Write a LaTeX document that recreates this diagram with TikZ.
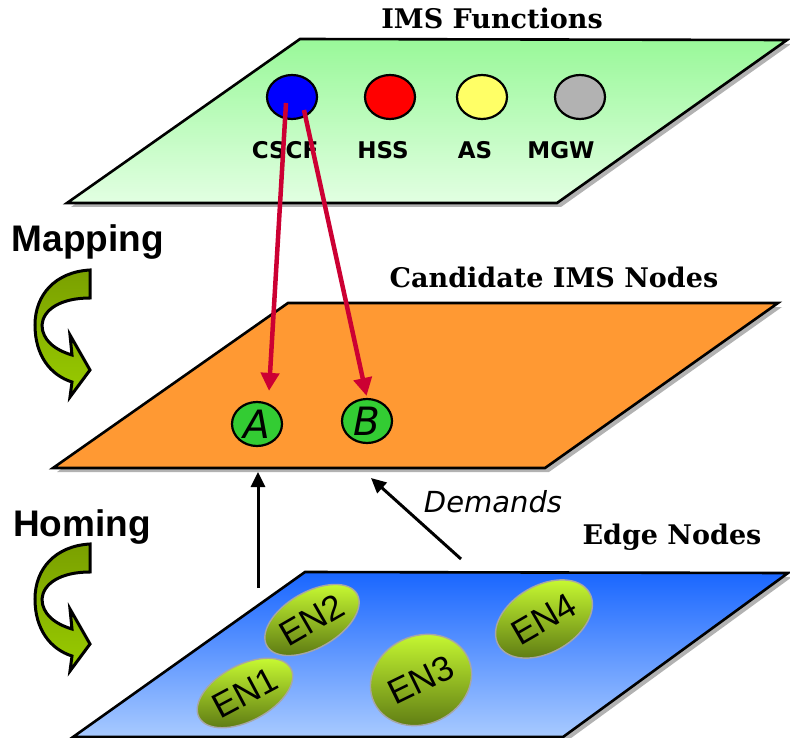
\documentclass[tikz,border=0pt]{standalone}
\usepackage{fontspec}
\usepackage{tikz}
\usetikzlibrary{shapes.geometric,arrows.meta,positioning}
\newfontfamily\verdfont{DejaVu Sans}
\newfontfamily\arialfont{Liberation Sans}
\newfontfamily\bookfont{DejaVu Serif}

\begin{document}
\begin{tikzpicture}[x=1pt, y=-1pt,
    every node/.style={inner sep=0pt},
    plane/.style={draw=black, line width=2.6pt},
    planeshadow/.style={fill=black!30},
    fnode/.style={ellipse, draw=black, line width=2.2pt, minimum width=50pt, minimum height=44pt},
    fnlabel/.style={font=\verdfont\bfseries\fontsize{23}{25}\selectfont},
    cand/.style={ellipse, draw=black, line width=2.2pt, fill=candgreen, minimum width=50pt, minimum height=44pt, font=\verdfont\itshape\fontsize{39}{41}\selectfont},
    en/.style={ellipse, draw=black!35, line width=1.4pt, top color=enlight, bottom color=endark, font=\arialfont\fontsize{35}{37}\selectfont},
    title/.style={font=\bookfont\bfseries\fontsize{27}{29}\selectfont},
    layername/.style={font=\arialfont\bfseries\fontsize{37}{39}\selectfont},
    maparrow/.style={draw=mapred, line width=4.5pt, -{Triangle[length=18pt,width=18pt]}},
    homearrow/.style={draw=black, line width=3pt, -{Triangle[length=15pt,width=14pt]}}]
    % Define colors
    \definecolor{imstop}{RGB}{153,248,153}
    \definecolor{imsbot}{RGB}{226,255,226}
    \definecolor{candorange}{RGB}{255,153,51}
    \definecolor{edgetop}{RGB}{25,102,255}
    \definecolor{edgebot}{RGB}{168,202,255}
    \definecolor{cscfblue}{RGB}{0,0,255}
    \definecolor{asyellow}{RGB}{255,255,102}
    \definecolor{mgwgray}{RGB}{178,178,178}
    \definecolor{candgreen}{RGB}{51,204,51}
    \definecolor{mapred}{RGB}{204,0,51}
    \definecolor{enlight}{RGB}{204,255,51}
    \definecolor{endark}{RGB}{90,118,18}
    \definecolor{arrowdark}{RGB}{122,160,0}
    \definecolor{arrowlight}{RGB}{153,204,0}

    \useasboundingbox (0,0) rectangle (790,738);

    % IMS Functions plane
    \fill[planeshadow] (304,43) -- (791,44) -- (561,207) -- (71,207) -- cycle;
    \shadedraw[plane, top color=imstop, bottom color=imsbot] (300,39) -- (787,40) -- (557,203) -- (67,203) -- cycle;
    \node[title] (imstitle) at (492,18) {IMS Functions};

    % Candidate IMS Nodes plane
    \fill[planeshadow] (292,307) -- (782,307) -- (549,472) -- (57,472) -- cycle;
    \filldraw[plane, fill=candorange] (288,303) -- (778,303) -- (545,468) -- (53,468) -- cycle;
    \node[title] (candtitle) at (554,277) {Candidate IMS Nodes};

    % Edge Nodes plane
    \fill[planeshadow] (309,576) -- (792,577) -- (567,741) -- (77,741) -- cycle;
    \shadedraw[plane, top color=edgetop, bottom color=edgebot] (305,572) -- (788,573) -- (563,737) -- (73,737) -- cycle;
    \node[title] (edgetitle) at (672,537) {Edge Nodes};

    % IMS functions
    \node[fnode, fill=cscfblue] (cscf) at (292,97) {};
    \node[fnode, fill=red] (hss) at (390,97) {};
    \node[fnode, fill=asyellow] (as) at (482,97) {};
    \node[fnode, fill=mgwgray] (mgw) at (580,97) {};
    \node[fnlabel] (cscflabel) at (285,150) {CSCF};
    \node[fnlabel] (hsslabel) at (383,150) {HSS};
    \node[fnlabel] (aslabel) at (475,150) {AS};
    \node[fnlabel] (mgwlabel) at (561,150) {MGW};

    % Candidate nodes
    \node[cand] (A) at (257,424) {A};
    \node[cand] (B) at (367,421) {B};

    % Mapping of CSCF onto candidates
    \draw[maparrow] ([xshift=-6pt,yshift=-6pt]cscf.center) -- ([xshift=12pt,yshift=10pt]A.north);
    \draw[maparrow, shorten >=2pt] ([xshift=12pt,yshift=-13pt]cscf.center) -- (B.north);

    % Edge nodes
    \node[en, rotate=28, minimum width=104pt, minimum height=56pt] (en1) at (245,693) {EN1};
    \node[en, rotate=30, minimum width=104pt, minimum height=56pt] (en2) at (312,620) {EN2};
    \node[en, rotate=26, minimum width=104pt, minimum height=88pt] (en3) at (421,680) {EN3};
    \node[en, rotate=30, minimum width=105pt, minimum height=67pt] (en4) at (544,619) {EN4};

    % Homing demands
    \coordinate (homefoot) at (258,588);
    \coordinate (homehead) at (258,472);
    \coordinate (demfoot) at (461,559);
    \coordinate (demhead) at (371,478);
    \draw[homearrow] (homefoot) -- (homehead);
    \draw[homearrow] (demfoot) -- (demhead);
    \node[font=\verdfont\itshape\fontsize{29}{31}\selectfont] (demands) at (493,502) {Demands};

    % Mapping / Homing arrows
    \node[layername] (mapping) at (88,242) {Mapping};
    \node[layername] (homing) at (82,527) {Homing};
    \foreach \dy in {0,274} {
        \shadedraw[line width=3pt, line join=miter, top color=arrowdark, bottom color=arrowlight, shift={(0,\dy)}]
            (90,270) .. controls (55,272) and (35,295) .. (35,325)
            .. controls (35,355) and (50,375) .. (72,382)
            -- (70,397) -- (90,370) -- (70,335) -- (72,355)
            .. controls (55,350) and (42,340) .. (42,325)
            .. controls (43,310) and (60,298) .. (90,298) -- cycle;
    }
\end{tikzpicture}
\end{document}
